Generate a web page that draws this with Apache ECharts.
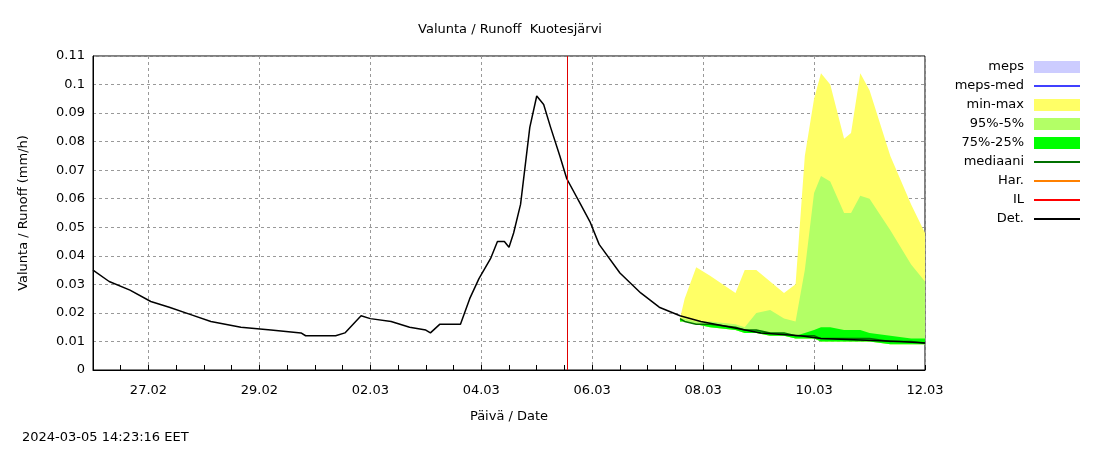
<!DOCTYPE html>
<html>
<head>
<meta charset="utf-8">
<script src="https://cdn.jsdelivr.net/npm/echarts@6/dist/echarts.min.js"></script>
<style>html,body{margin:0;background:#fff}#main{width:1100px;height:450px}</style>
</head>
<body>
<div id="main"></div>
<script>
// hours since 26.02 00:00
var detHours = [0,7,16,25,33,42,51,64,77,90,92,105,109,116,120,129,137,144,146,150,159,163,167,172,175,178,180,182,185,189,192,195,198,202,205,211,215,219,228,237,245,254,263,276,289,306,315,349,360];
var detValues = [0.035,0.031,0.028,0.024,0.022,0.0195,0.017,0.015,0.014,0.013,0.012,0.012,0.013,0.019,0.018,0.017,0.015,0.014,0.013,0.016,0.016,0.025,0.032,0.039,0.045,0.045,0.043,0.048,0.058,0.085,0.096,0.093,0.085,0.075,0.067,0.058,0.052,0.044,0.034,0.027,0.022,0.019,0.017,0.015,0.013,0.012,0.011,0.010,0.0095];

var fcHours = [254,256,261,267,278,282,287,293,299,304,308,312,315,319,325,328,332,336,345,354,360];
var minMaxHi = [0.018,0.025,0.036,0.033,0.027,0.035,0.035,0.031,0.027,0.030,0.075,0.095,0.104,0.100,0.081,0.083,0.104,0.098,0.075,0.058,0.048];
var p95Hi = [0.018,0.018,0.017,0.017,0.016,0.015,0.020,0.021,0.018,0.017,0.035,0.062,0.068,0.066,0.055,0.055,0.061,0.060,0.049,0.037,0.031];
var p75Hi = [0.018,0.017,0.016,0.016,0.015,0.014,0.014,0.013,0.013,0.012,0.013,0.014,0.015,0.015,0.014,0.014,0.014,0.013,0.012,0.011,0.011];
var bandLo = [0.017,0.017,0.016,0.015,0.014,0.013,0.013,0.012,0.012,0.011,0.011,0.011,0.010,0.010,0.010,0.010,0.010,0.010,0.009,0.009,0.009];
var median = [0.018,0.017,0.016,0.016,0.015,0.014,0.014,0.013,0.013,0.012,0.012,0.012,0.011,0.011,0.011,0.011,0.011,0.011,0.010,0.010,0.0095];

var tickLabels = ['27.02','29.02','02.03','04.03','06.03','08.03','10.03','12.03'];
var nowHour = 205;
var legendNames = ['meps', 'meps-med', 'min-max', '95%-5%', '75%-25%', 'mediaani', 'Har.', 'IL', 'Det.'];
var legendIsArea = [true, false, true, true, true, false, false, false, false];

var hours = [];
for (var h = 0; h <= 360; h++) hours.push(String(h));
var isMajor = function (i) { return i >= 24 && (i - 24) % 48 === 0; };

function pairs(xs, ys) { return xs.map(function (x, i) { return [x, ys[i]]; }); }
function diff(hi, lo) { return hi.map(function (v, i) { return [fcHours[i], +(v - lo[i]).toFixed(4)]; }); }

function band(name, hi, color, stack) {
  return [
    { type: 'line', stack: stack, data: pairs(fcHours, bandLo), symbol: 'none', lineStyle: { opacity: 0 }, silent: true },
    { name: name, type: 'line', stack: stack, data: diff(hi, bandLo), symbol: 'none', lineStyle: { width: 0 }, itemStyle: { color: color }, areaStyle: { color: color, opacity: 1 } }
  ];
}

var legends = legendNames.map(function (n, i) {
  return {
    right: 20, top: 59 + i * 19, align: 'right', icon: 'rect', padding: 0,
    itemWidth: 46, itemHeight: legendIsArea[i] ? 12 : 2, itemGap: 0,
    textStyle: { fontSize: 13, color: '#000', lineHeight: 16, padding: [0, 5, 0, 0] },
    data: [n]
  };
});

var chart = echarts.init(document.getElementById('main'));

chart.setOption({
  animation: false,
  textStyle: { fontFamily: 'DejaVu Sans' },
  title: { text: 'Valunta / Runoff  Kuotesjärvi', left: 505, textAlign: 'center', top: 18, textStyle: { fontSize: 13, fontWeight: 'normal', color: '#000' } },
  graphic: [
    { type: 'text', left: 22, top: 431, style: { text: '2024-03-05 14:23:16 EET', font: '13px DejaVu Sans', fill: '#000' } }
  ],
  legend: legends,
  grid: { left: 93, right: 175, top: 56, bottom: 80, show: true, borderColor: '#000', borderWidth: 1 },
  xAxis: {
    type: 'category', data: hours, boundaryGap: false,
    name: 'Päivä / Date', nameLocation: 'middle', nameGap: 40, nameTextStyle: { fontSize: 13, color: '#000' },
    axisLine: { lineStyle: { color: '#000' } },
    axisTick: { inside: true, length: 5, interval: function (i) { return i % 12 === 0 && i > 0; }, lineStyle: { color: '#000' } },
    axisLabel: { interval: function (i) { return isMajor(i); }, formatter: function (v, i) { return tickLabels[(i - 24) / 48] || ''; }, fontSize: 13, color: '#000', margin: 14 },
    splitLine: { show: true, interval: function (i) { return isMajor(i); }, lineStyle: { color: '#999', type: [3, 3] } }
  },
  yAxis: {
    type: 'value', min: 0, max: 0.11, interval: 0.01,
    name: 'Valunta / Runoff (mm/h)', nameLocation: 'middle', nameGap: 63, nameTextStyle: { fontSize: 13, color: '#000' },
    axisLine: { show: true, lineStyle: { color: '#000' } },
    axisTick: { inside: true, length: 6, lineStyle: { color: '#000' } },
    axisLabel: { fontSize: 13, color: '#000', formatter: function (v) { return v === 0 ? '0' : String(+v.toFixed(2)); } },
    splitLine: { lineStyle: { color: '#999', type: [3, 3] } }
  },
  series: [
    { name: 'meps', type: 'line', data: [], symbol: 'none', itemStyle: { color: '#ccccff' }, areaStyle: { color: '#ccccff' } },
    { name: 'meps-med', type: 'line', data: [], symbol: 'none', itemStyle: { color: '#4040ff' }, lineStyle: { color: '#4040ff', width: 2 } }
  ].concat(band('min-max', minMaxHi, '#ffff66', 'a'))
   .concat(band('95%-5%', p95Hi, '#b3ff66', 'b'))
   .concat(band('75%-25%', p75Hi, '#00ff00', 'c'))
   .concat([
    { name: 'mediaani', type: 'line', data: pairs(fcHours, median), symbol: 'none', itemStyle: { color: '#007000' }, lineStyle: { color: '#007000', width: 1.5 } },
    { name: 'Har.', type: 'line', data: [], symbol: 'none', itemStyle: { color: '#ff8000' }, lineStyle: { color: '#ff8000', width: 2 } },
    { name: 'IL', type: 'line', data: [], symbol: 'none', itemStyle: { color: '#ff0000' }, lineStyle: { color: '#ff0000', width: 2 } },
    { name: 'Det.', type: 'line', data: pairs(detHours, detValues), symbol: 'none', itemStyle: { color: '#000' }, lineStyle: { color: '#000', width: 1.5 },
      markLine: { silent: true, symbol: 'none', label: { show: false }, lineStyle: { color: '#e00000', width: 1, type: 'solid' }, data: [{ xAxis: String(nowHour) }] } }
  ])
});
</script>
</body>
</html>
